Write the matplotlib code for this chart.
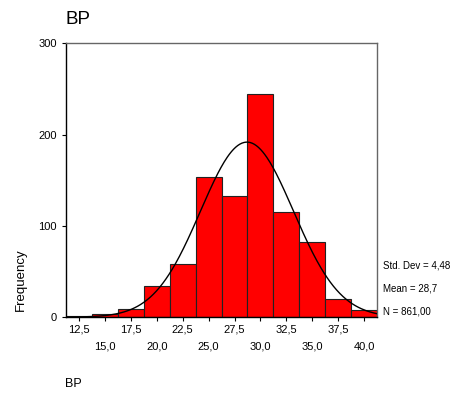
import matplotlib
matplotlib.use("Agg")
import matplotlib.pyplot as plt
import numpy as np

plt.rcParams['font.family'] = ['Liberation Sans', 'DejaVu Sans']

# histogram of BP, bin width 2.5
bin_centers = [12.5, 15.0, 17.5, 20.0, 22.5, 25.0, 27.5, 30.0, 32.5, 35.0, 37.5, 40.0]
counts = [1, 4, 9, 34, 58, 153, 133, 244, 115, 82, 20, 8]
tick_labels = ["12,5", "15,0", "17,5", "20,0", "22,5", "25,0",
               "27,5", "30,0", "32,5", "35,0", "37,5", "40,0"]
std_dev = 4.48
mean = 28.7
n_total = 861
bin_width = 2.5

fig = plt.figure(figsize=(4.65, 3.96), dpi=100)
ax = fig.add_axes([0.142, 0.199, 0.669, 0.692])

ax.bar(bin_centers, counts, width=bin_width, color='#ff0000',
       edgecolor='#222222', linewidth=0.8, zorder=2)

# normal curve scaled to counts
xs = np.linspace(11.25, 41.25, 300)
ys = n_total * bin_width / (std_dev * np.sqrt(2 * np.pi)) * np.exp(-0.5 * ((xs - mean) / std_dev) ** 2)
ax.plot(xs, ys, color='black', linewidth=1.0, zorder=3)

ax.set_xlim(11.25, 41.25)
ax.set_ylim(0, 300)
ax.set_yticks([0, 100, 200, 300])
ax.set_yticklabels(["0", "100", "200", "300"], fontsize=8)
ax.set_xticks(bin_centers)
ax.set_xticklabels([])
for i, (c, lab) in enumerate(zip(bin_centers, tick_labels)):
    y_off = -0.025 if i % 2 == 0 else -0.09
    ax.text(c, y_off, lab, transform=ax.get_xaxis_transform(),
            ha='center', va='top', fontsize=8)
ax.tick_params(axis='both', length=3, width=0.8, color='black')

ax.spines['left'].set_color('black')
ax.spines['bottom'].set_color('black')
ax.spines['top'].set_color('#666666')
ax.spines['right'].set_color('#666666')
for s in ax.spines.values():
    s.set_linewidth(1.0)

fig.text(0.14, 0.952, "BP", fontsize=13.5, ha='left', va='center')
fig.text(0.045, 0.293, "Frequency", rotation=90, fontsize=9.5, ha='center', va='center')
fig.text(0.14, 0.03, "BP", fontsize=9, ha='left', va='center')

fig.text(0.823, 0.33, "Std. Dev = 4,48", fontsize=7, ha='left', va='center')
fig.text(0.823, 0.272, "Mean = 28,7", fontsize=7, ha='left', va='center')
fig.text(0.823, 0.214, "N = 861,00", fontsize=7, ha='left', va='center')

fig.savefig("out.png", dpi=100)
